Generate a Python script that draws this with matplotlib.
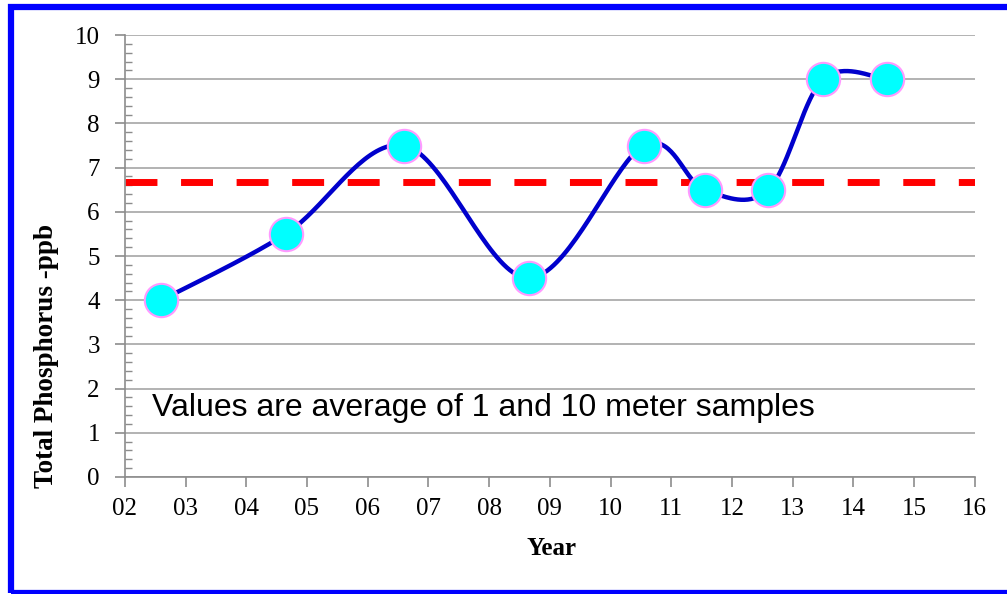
import numpy as np
import matplotlib.pyplot as plt
from matplotlib.patches import Rectangle
from matplotlib.ticker import MultipleLocator, FuncFormatter

# Fósforo total promedio por año (muestras de 1 y 10 m)
years = [2.6, 4.65, 6.6, 8.65, 10.55, 11.55, 12.6, 13.5, 14.55]
phosphorus = [4.0, 5.5, 7.5, 4.5, 7.5, 6.5, 6.5, 9.0, 9.0]
average = np.mean(phosphorus)
note = 'Values are average of 1 and 10 meter samples'


def smooth_curve(x, y, n=40):
    # curva suavizada tipo Catmull-Rom con segmentos Bezier cúbicos
    x = np.asarray(x, float)
    y = np.asarray(y, float)
    px = np.concatenate([[x[0]], x, [x[-1]]])
    py = np.concatenate([[y[0]], y, [y[-1]]])
    t = np.linspace(0, 1, n)
    xs, ys = [], []
    for i in range(1, len(px) - 2):
        p0 = np.array([px[i], py[i]])
        p3 = np.array([px[i + 1], py[i + 1]])
        p1 = p0 + (np.array([px[i + 1], py[i + 1]]) - np.array([px[i - 1], py[i - 1]])) / 6
        p2 = p3 - (np.array([px[i + 2], py[i + 2]]) - np.array([px[i], py[i]])) / 6
        b = ((1 - t) ** 3)[:, None] * p0 + (3 * (1 - t) ** 2 * t)[:, None] * p1 \
            + (3 * (1 - t) * t ** 2)[:, None] * p2 + (t ** 3)[:, None] * p3
        xs.extend(b[:, 0])
        ys.extend(b[:, 1])
    return np.array(xs), np.array(ys)


fig = plt.figure(figsize=(10.07, 5.94), dpi=100)
ax = fig.add_axes([0.124, 0.197, 0.844, 0.744])

ax.yaxis.grid(True, color='#a6a6a6', linewidth=1.2, zorder=0)
ax.axhline(average, color='#ff0000', linewidth=5, dashes=(4.6, 3.4), zorder=2)

sx, sy = smooth_curve(years, phosphorus)
ax.plot(sx, sy, color='#0000cc', linewidth=3.2, zorder=3)
ax.plot(years, phosphorus, linestyle='none', marker='o', markersize=24,
        markerfacecolor='#00ffff', markeredgecolor='#ff99ff', markeredgewidth=1.5, zorder=4)

ax.text(2.45, 1.55, note, fontsize=23, family='Liberation Sans', va='center', zorder=5)

ax.set_xlim(2, 16)
ax.set_ylim(0, 10)
ax.xaxis.set_major_locator(MultipleLocator(1))
ax.xaxis.set_major_formatter(FuncFormatter(lambda v, p: '%02d' % v))
ax.yaxis.set_major_locator(MultipleLocator(1))
ax.yaxis.set_minor_locator(MultipleLocator(0.2))

for s in ['top', 'right']:
    ax.spines[s].set_visible(False)
for s in ['left', 'bottom']:
    ax.spines[s].set_color('#8c8c8c')
    ax.spines[s].set_linewidth(1.2)

ax.tick_params(which='major', direction='out', length=7, color='#8c8c8c', width=1.2,
               labelsize=18)
ax.tick_params(axis='x', which='major', pad=8)
ax.tick_params(axis='y', which='major', pad=11)
ax.tick_params(axis='y', which='minor', direction='in', length=5, color='#8c8c8c', width=1)
for lbl in ax.get_xticklabels() + ax.get_yticklabels():
    lbl.set_family('Liberation Serif')

ax.set_xlabel('Year', fontsize=18, fontweight='bold', family='Liberation Serif')
ax.xaxis.set_label_coords(0.502, -0.161)
ax.set_ylabel('Total Phosphorus -ppb', fontsize=19.5, fontweight='bold', family='Liberation Serif')
ax.yaxis.set_label_coords(-0.092, 0.274)
ax.yaxis.label.set_va('center')
ax.xaxis.label.set_va('center')

# marco azul alrededor de la figura
fig.patches.append(Rectangle((11 / 1007, 1 / 594), 1.05, 586 / 594, transform=fig.transFigure,
                             fill=False, edgecolor='#0000ff', linewidth=4.5, clip_on=False))

fig.savefig('out.png', dpi=100)
